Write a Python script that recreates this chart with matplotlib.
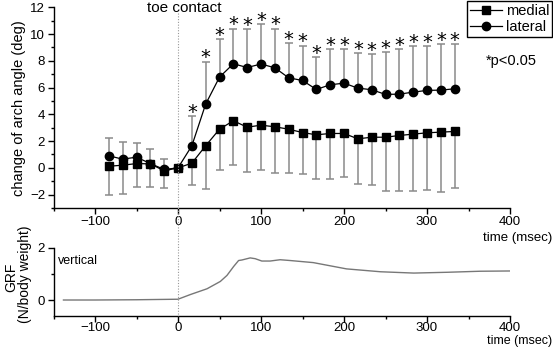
import matplotlib
matplotlib.use('Agg')
import matplotlib.pyplot as plt
from matplotlib.lines import Line2D
from matplotlib.transforms import blended_transform_factory
from matplotlib.ticker import MultipleLocator

plt.rcParams['font.family'] = ['Liberation Sans', 'DejaVu Sans']

# sample times (msec, 60 Hz frames around toe contact)
time = [-83.3, -66.7, -50.0, -33.3, -16.7, 0.0, 16.7, 33.3, 50.0, 66.7, 83.3, 100.0, 116.7,
        133.3, 150.0, 166.7, 183.3, 200.0, 216.7, 233.3, 250.0, 266.7, 283.3, 300.0, 316.7, 333.3]

# change of arch angle (deg)
medial = [0.12, 0.20, 0.32, 0.30, -0.22, 0.0, 0.35, 1.65, 2.89, 3.52, 3.04, 3.19, 3.07,
          2.89, 2.64, 2.47, 2.57, 2.57, 2.17, 2.29, 2.29, 2.42, 2.52, 2.62, 2.67, 2.72]
medial_sd = [2.12, 2.12, 1.74, 1.72, 1.26, 0.0, 1.60, 3.20, 3.04, 3.27, 3.34, 3.34, 3.42,
             3.24, 3.09, 3.29, 3.42, 3.24, 3.39, 3.59, 4.04, 4.17, 4.24, 4.24, 4.47, 4.22]
lateral = [0.90, 0.65, 0.80, 0.32, -0.12, 0.0, 1.65, 4.76, 6.78, 7.78, 7.50, 7.76, 7.48,
           6.73, 6.53, 5.86, 6.21, 6.33, 5.96, 5.84, 5.49, 5.51, 5.66, 5.79, 5.81, 5.91]
lateral_sd = [1.35, 1.25, 1.08, 1.06, 0.80, 0.0, 2.22, 3.17, 2.85, 2.62, 2.87, 2.96, 2.92,
              2.57, 2.60, 2.42, 2.67, 2.55, 2.59, 2.64, 3.14, 3.34, 3.42, 3.31, 3.44, 3.34]
significant = [0, 0, 0, 0, 0, 0, 1, 1, 1, 1, 1, 1, 1, 1, 1, 1, 1, 1, 1, 1, 1, 1, 1, 1, 1, 1]

# vertical ground reaction force (N/body weight)
grf_time = [-138, -100, -50, 0, 15, 35, 51, 59, 67, 73, 77, 87, 93, 101, 111, 123, 135,
            163, 203, 244, 284, 324, 364, 400]
grf_vert = [0.0, 0.0, 0.01, 0.03, 0.21, 0.43, 0.71, 0.94, 1.28, 1.51, 1.53, 1.61, 1.58, 1.49,
            1.49, 1.54, 1.51, 1.43, 1.19, 1.08, 1.03, 1.06, 1.10, 1.11]

W, H = 553, 348
fig = plt.figure(figsize=(W / 100, H / 100), dpi=100)
ax1 = fig.add_axes([53.5 / W, 1 - 208 / H, (510 - 53.5) / W, (208 - 7.3) / H])
ax2 = fig.add_axes([53.5 / W, 1 - 315.7 / H, (510 - 53.5) / W, (315.7 - 247.7) / H])
ax1.patch.set_alpha(0)
ax2.patch.set_alpha(0)

err_col = '#8a8a8a'
zeros = [0] * len(time)
ax1.errorbar(time, lateral, yerr=[zeros, lateral_sd], fmt='none', ecolor=err_col,
             elinewidth=1.1, capsize=3, capthick=1.1, zorder=1)
ax1.errorbar(time, medial, yerr=[medial_sd, zeros], fmt='none', ecolor=err_col,
             elinewidth=1.1, capsize=3, capthick=1.1, zorder=1)
ax1.plot(time, medial, color='black', marker='s', markersize=5.5, lw=0.9, label='medial', zorder=3)
ax1.plot(time, lateral, color='black', marker='o', markersize=6, lw=0.9, label='lateral', zorder=3)

for t, m, s, sig in zip(time, lateral, lateral_sd, significant):
    if sig:
        ax1.annotate('*', xy=(t, m + s), xytext=(0, -4), textcoords='offset points',
                     ha='center', va='bottom', fontsize=14, family='DejaVu Sans')

ax1.set_xlim(-150, 400)
ax1.set_ylim(-3, 12)
ax1.set_ylabel('change of arch angle (deg)', fontsize=10.5, labelpad=3)

ax2.plot(grf_time, grf_vert, color='#777777', lw=1.0)
ax2.set_xlim(-150, 400)
ax2.set_ylim(-0.6, 2)
ax2.text(-145, 1.5, 'vertical', fontsize=9, va='center')

for ax in (ax1, ax2):
    for side in ('top', 'right'):
        ax.spines[side].set_visible(False)
    ax.spines['left'].set_linewidth(1.0)
    ax.spines['bottom'].set_linewidth(1.0)
    ax.xaxis.set_major_locator(MultipleLocator(100))
    ax.xaxis.set_minor_locator(MultipleLocator(50))
    ax.tick_params(which='major', direction='out', length=4, width=1, labelsize=9.5, pad=2)
    ax.tick_params(which='minor', direction='out', length=2.5, width=1)
    ax.set_xticks([-100, 0, 100, 200, 300, 400])

ax1.yaxis.set_major_locator(MultipleLocator(2))
ax1.yaxis.set_minor_locator(MultipleLocator(1))
ax1.set_yticks([-2, 0, 2, 4, 6, 8, 10, 12])
ax2.set_yticks([0, 2])
ax2.yaxis.set_minor_locator(MultipleLocator(1))
ax2.tick_params(axis='x', pad=0.5)

# toe contact dotted line spanning both panels
trans = blended_transform_factory(ax1.transData, fig.transFigure)
fig.add_artist(Line2D([0, 0], [1 - 13 / H, 1 - 315.7 / H], transform=trans,
                      color='#999999', lw=0.8, ls=(0, (1, 1.5)), zorder=0.5))

fig.text(11 / W, 1 - 277 / H, 'GRF', fontsize=10, rotation=90, ha='center', va='center')
fig.text(25 / W, 1 - 274 / H, '(N/body weight)', fontsize=10, rotation=90, ha='center', va='center')
fig.text(184 / W, 1 - 8 / H, 'toe contact', fontsize=11, ha='center', va='center')
fig.text(0.998, 1 - 238 / H, 'time (msec)', fontsize=9.5, ha='right', va='center')
fig.text(0.998, 1 - 341 / H, 'time (msec)', fontsize=9, ha='right', va='center')
fig.text(511 / W, 1 - 61 / H, '*p<0.05', fontsize=10.5, ha='center', va='center')

leg = ax1.legend(loc='upper right', bbox_to_anchor=(1.0, 1.0), bbox_transform=fig.transFigure,
                 fontsize=10.5, frameon=True, fancybox=False, borderpad=0.2, handlelength=2.2,
                 handletextpad=0.25, labelspacing=0.15, borderaxespad=0.05, framealpha=1)
leg.get_frame().set_edgecolor('black')
leg.get_frame().set_linewidth(1.0)

fig.savefig('out.png', dpi=100)
